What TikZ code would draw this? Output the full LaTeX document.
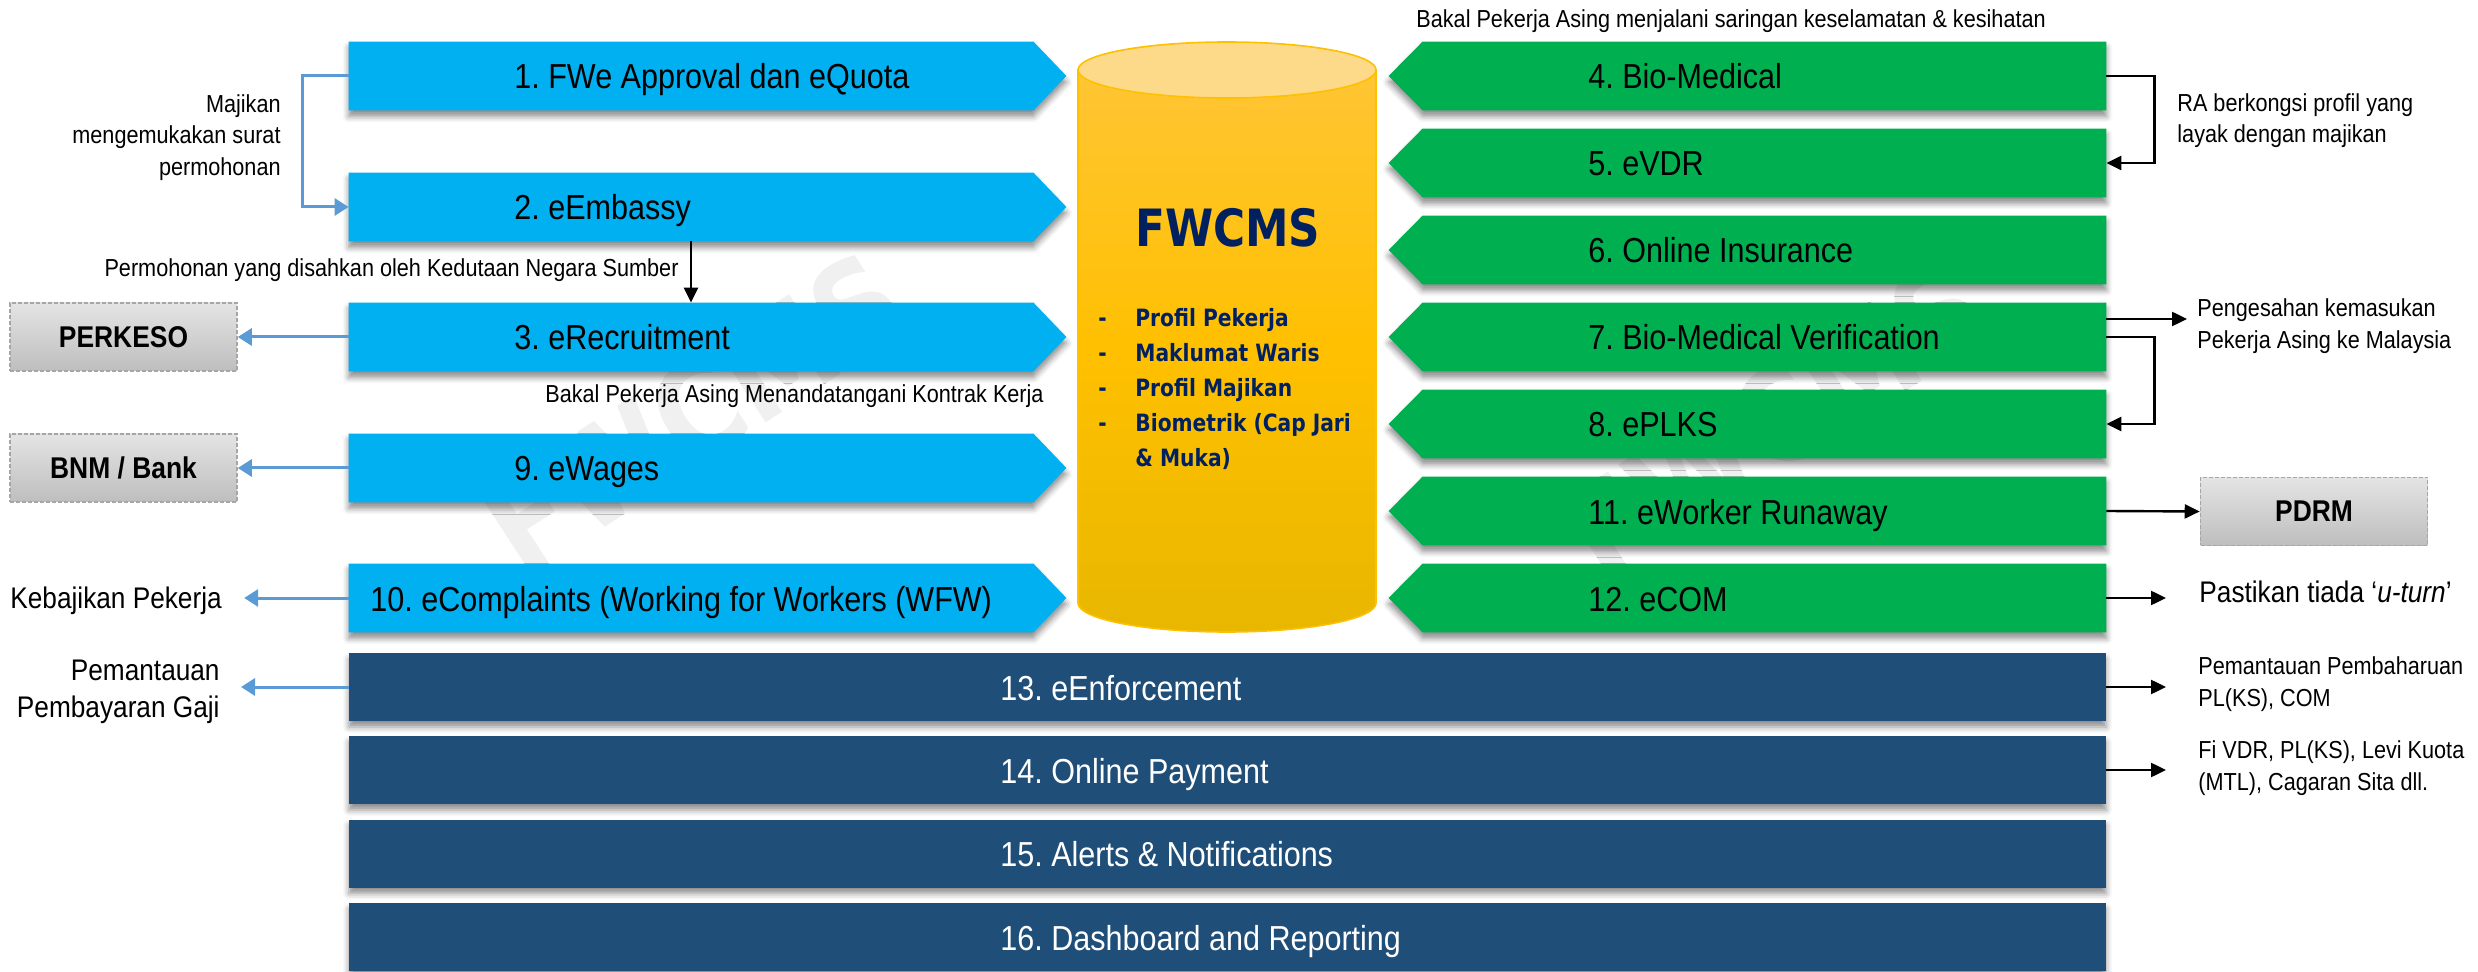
\documentclass[tikz,border=0pt]{standalone}
\usepackage{fontspec}
\setmainfont{Liberation Sans}[FakeStretch=0.88]
\newfontfamily\cylfont{DejaVu Sans}[FakeStretch=0.85]
\usetikzlibrary{arrows.meta,shadows.blur}
\frenchspacing

\definecolor{cBlue}{HTML}{00B0F0}
\definecolor{cGreen}{HTML}{00B050}
\definecolor{cNavy}{HTML}{1F4E79}
\definecolor{cArrow}{HTML}{5B9BD5}
\definecolor{cTitle}{HTML}{002060}
\definecolor{cylTop}{HTML}{FFC535}
\definecolor{cylMid}{HTML}{FFC000}
\definecolor{cylBot}{HTML}{E8B700}
\definecolor{cylCap}{HTML}{FDDA8A}
\definecolor{cylEdge}{HTML}{FFC000}
\definecolor{grayTop}{HTML}{E4E4E4}
\definecolor{grayBot}{HTML}{BEBEBE}
\definecolor{grayEdge}{HTML}{A6A6A6}
\definecolor{wmark}{HTML}{F0F0F0}

\newcommand\bluestep[4]{%
  \node[arrowframe] (#1) at (707.5,#2) {};
  \fill[cBlue,boxshadow] (#1.north west) -- ([xshift=-16.5pt]#1.north east) -- (#1.east) -- ([xshift=-16.5pt]#1.south east) -- (#1.south west) -- cycle;
  \node[boxtext] (#1t) at (#3,#2+13) {#4};}
\newcommand\greenstep[3]{%
  \node[arrowframe] (#1) at (1747.5,#2) {};
  \fill[cGreen,boxshadow] (#1.north east) -- ([xshift=17pt]#1.north west) -- (#1.west) -- ([xshift=17pt]#1.south west) -- (#1.south east) -- cycle;
  \node[boxtext] (#1t) at (1588,#2+13) {#3};}
\newcommand\navystep[3]{%
  \node[barframe] (#1) at (1227.5,#2) {};
  \node[boxtext,text=white] (#1t) at (1000,#2+13) {#3};}

\begin{document}
\begin{tikzpicture}[x=0.5pt,y=-0.5pt,
  boxshadow/.style={blur shadow={shadow xshift=0pt,shadow yshift=-3pt,shadow blur radius=3pt,shadow opacity=45}},
  arrowframe/.style={rectangle,draw=none,inner sep=0pt,minimum width=358.5pt,minimum height=34pt},
  barframe/.style={rectangle,draw=none,fill=cNavy,inner sep=0pt,minimum width=878.5pt,minimum height=34pt,boxshadow},
  boxtext/.style={inner sep=0pt,anchor=base west,font=\fontsize{17.35pt}{20pt}\selectfont},
  smalltext/.style={inner sep=0pt,font=\fontsize{12.3pt}{15pt}\selectfont},
  medtext/.style={inner sep=0pt,font=\fontsize{14.9pt}{18pt}\selectfont},
  graybox/.style={rectangle,inner sep=0pt,minimum width=113.5pt,minimum height=34pt,top color=grayTop,bottom color=grayBot,draw=grayEdge,dash pattern=on 2pt off 1pt,line width=0.8pt,font=\bfseries\fontsize{15pt}{18pt}\selectfont},
  blu/.style={draw=cArrow,line width=1.5pt,-{Triangle[length=7pt,width=8.5pt]}},
  blk/.style={draw=black,line width=1.2pt,-{Triangle[length=7.5pt,width=7pt]}},
  cyltitle/.style={inner sep=0pt,anchor=base west,text=cTitle,font=\cylfont\bfseries\fontsize{25.7pt}{30pt}\selectfont},
  cylitem/.style={inner sep=0pt,anchor=base west,text=cTitle,font=\cylfont\bfseries\fontsize{11.9pt}{14pt}\selectfont},
  wm/.style={rotate=33,text=wmark,font=\cylfont\bfseries\fontsize{65pt}{70pt}\selectfont}
]
\useasboundingbox (0,0) rectangle (2478,972);

% watermarks
\node[wm] (wm1) at (694,413) {FWCMS};
\node[wm] (wm2) at (1775,420) {FWCMS};

% database cylinder
\shade[top color=cylTop,bottom color=cylBot,middle color=cylMid,draw=cylEdge,line width=0.8pt]
  (1078,70) -- (1078,603) arc[start angle=180,end angle=0,x radius=149,y radius=29] -- (1376,70) -- cycle;
\filldraw[fill=cylCap,draw=cylEdge,line width=0.8pt] (1227,70) ellipse[x radius=149,y radius=28];
\node[cyltitle] (fw) at (1135,247) {FWCMS};
\node[cylitem] (d1) at (1098,327) {-};
\node[cylitem] (d2) at (1098,362) {-};
\node[cylitem] (d3) at (1098,397) {-};
\node[cylitem] (d4) at (1098,432) {-};
\node[cylitem] (i1) at (1135,327) {Profil Pekerja};
\node[cylitem] (i2) at (1135,362) {Maklumat Waris};
\node[cylitem] (i3) at (1135,397) {Profil Majikan};
\node[cylitem] (i4) at (1135,432) {Biometrik (Cap Jari};
\node[cylitem] (i5) at (1135,467) {\& Muka)};

% left column
\bluestep{b1}{76}{514}{1. FWe Approval dan eQuota}
\bluestep{b2}{207}{514}{2. eEmbassy}
\bluestep{b3}{337}{514}{3. eRecruitment}
\bluestep{b9}{468}{514}{9. eWages}
\bluestep{b10}{598}{370}{10. eComplaints (Working for Workers (WFW)}

% right column
\greenstep{g4}{76}{4. Bio-Medical}
\greenstep{g5}{163}{5. eVDR}
\greenstep{g6}{250}{6. Online Insurance}
\greenstep{g7}{337}{7. Bio-Medical Verification}
\greenstep{g8}{424}{8. ePLKS}
\greenstep{g11}{511}{11. eWorker Runaway}
\greenstep{g12}{598}{12. eCOM}

% bottom bars
\navystep{n13}{687}{13. eEnforcement}
\navystep{n14}{770}{14. Online Payment}
\navystep{n15}{853.5}{15. Alerts \& Notifications}
\navystep{n16}{937}{16. Dashboard and Reporting}

% external boxes
\node[graybox] (perk) at (123.5,337) {PERKESO};
\node[graybox] (bnm) at (123.5,468) {BNM / Bank};
\node[graybox] (pdrm) at (2314,511.5) {PDRM};

% labels
\node[smalltext,anchor=base east] (maj1) at (281,113) {Majikan};
\node[smalltext,anchor=base east] (maj2) at (281,144) {mengemukakan surat};
\node[smalltext,anchor=base east] (maj3) at (281,176) {permohonan};
\node[smalltext,anchor=base east] (perm) at (679,277) {Permohonan yang disahkan oleh Kedutaan Negara Sumber};
\node[smalltext,anchor=base west] (kontrak) at (545,403) {Bakal Pekerja Asing Menandatangani Kontrak Kerja};
\node[medtext,anchor=base west] (keb) at (10,609) {Kebajikan Pekerja};
\node[medtext,anchor=base east] (pg1) at (220,680) {Pemantauan};
\node[medtext,anchor=base east] (pg2) at (220,717) {Pembayaran Gaji};
\node[smalltext,anchor=base west] (saring) at (1416,28) {Bakal Pekerja Asing menjalani saringan keselamatan \& kesihatan};
\node[smalltext,anchor=base west] (ra1) at (2177,112) {RA berkongsi profil yang};
\node[smalltext,anchor=base west] (ra2) at (2177,143) {layak dengan majikan};
\node[smalltext,anchor=base west] (pen1) at (2197,317) {Pengesahan kemasukan};
\node[smalltext,anchor=base west] (pen2) at (2197,349) {Pekerja Asing ke Malaysia};
\node[medtext,anchor=base west] (pas) at (2199,603) {Pastikan tiada ‘\textit{u-turn}’};
\node[smalltext,anchor=base west] (pp1) at (2198,674) {Pemantauan Pembaharuan};
\node[smalltext,anchor=base west] (pp2) at (2198,706) {PL(KS), COM};
\node[smalltext,anchor=base west] (fi1) at (2198,758) {Fi VDR, PL(KS), Levi Kuota};
\node[smalltext,anchor=base west] (fi2) at (2198,790) {(MTL), Cagaran Sita dll.};
\coordinate (pa) at (2187,319);

% connectors
\draw[blu] (b1.west) -- ++(-23pt,0) |- (b2.west);
\draw[blk] ([xshift=-8.25pt]b2.south) -- ([xshift=-8.25pt]b3.north);
\draw[blu] (b3.west) -- (perk.east);
\draw[blu] (b9.west) -- (bnm.east);
\draw[blu] (b10.west) -- ([xshift=11pt]b10.west -| keb.east);
\draw[blu] (n13.west) -- ([xshift=10.5pt]n13.west -| pg2.east);
\draw[blk] (g4.east) -- ++(24pt,0) |- (g5.east);
\draw[blk] (g7.east |- pa) -- (pa);
\draw[blk] (g7.east) -- ++(24pt,0) |- (g8.east);
\draw[blk] (g11.east) -- (pdrm.west);
\draw[blk] (g12.east) -- ([xshift=-16.5pt]g12.east -| pas.west);
\draw[blk] (n13.east) -- ([xshift=-16pt]n13.east -| pp1.west);
\draw[blk] (n14.east) -- ([xshift=-16pt]n14.east -| fi1.west);
\end{tikzpicture}
\end{document}
